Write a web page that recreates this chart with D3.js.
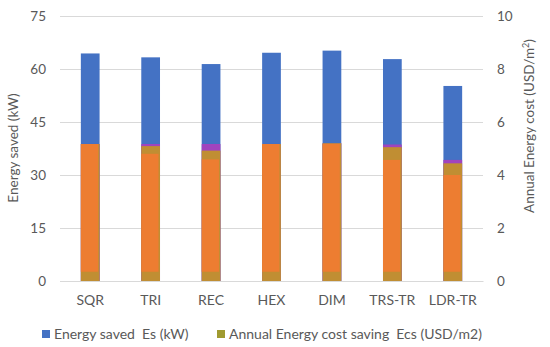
<!DOCTYPE html>
<html><head><meta charset="utf-8">
<script src="https://cdn.jsdelivr.net/npm/d3@7"></script>
<style>body{margin:0;background:#fff}svg{display:block}text{font-family:Lato,"Open Sans",sans-serif;fill:#595959}</style>
</head><body><svg id="c" width="550" height="347"></svg>
<script>
const categories = ["SQR","TRI","REC","HEX","DIM","TRS-TR","LDR-TR"];
const energySaved = [64.4, 63.3, 61.4, 64.6, 65.2, 62.8, 55.2];
const costUpper = [5.17, 5.17, 5.17, 5.17, 5.2, 5.15, 4.57];
const costSaving = [5.17, 5.09, 4.92, 5.17, 5.2, 5.05, 4.44];
const costInnerTop = [5.17, 4.8, 4.59, 5.17, 5.17, 4.57, 4.0];
const costInnerBase = 0.35;
const leftTicks = [0, 15, 30, 45, 60, 75];
const rightTicks = [0, 2, 4, 6, 8, 10];

const svg = d3.select("#c");
const x = d3.scaleBand().domain(categories).range([60, 483]).paddingInner(0.69).paddingOuter(0.345);
const yL = d3.scaleLinear().domain([0, 75]).range([281, 16]);
const yR = d3.scaleLinear().domain([0, 10]).range([281, 16]);

// gridlines
svg.append("g").selectAll("line").data(leftTicks).join("line")
  .attr("x1", 60).attr("x2", 483).attr("y1", d => yL(d) + 0.5).attr("y2", d => yL(d) + 0.5)
  .attr("stroke", "#d9d9d9").attr("stroke-width", 1);

const bw = x.bandwidth();
const g = svg.append("g");
g.selectAll(".es").data(categories).join("rect")
  .attr("x", d => x(d)).attr("width", bw)
  .attr("y", (d, i) => yL(energySaved[i])).attr("height", (d, i) => yL(0) - yL(energySaved[i]))
  .attr("fill", "#4472C4");
g.selectAll(".up").data(categories).join("rect")
  .attr("x", d => x(d)).attr("width", bw)
  .attr("y", (d, i) => yR(costUpper[i])).attr("height", (d, i) => yR(0) - yR(costUpper[i]))
  .attr("fill", "#A044BE");
g.selectAll(".ecs").data(categories).join("rect")
  .attr("x", d => x(d)).attr("width", bw)
  .attr("y", (d, i) => yR(costSaving[i])).attr("height", (d, i) => yR(0) - yR(costSaving[i]))
  .attr("fill", "#C08E33");
g.selectAll(".inner").data(categories).join("rect")
  .attr("x", d => x(d)).attr("width", bw - 1.5)
  .attr("y", (d, i) => yR(costInnerTop[i])).attr("height", (d, i) => yR(costInnerBase) - yR(costInnerTop[i]))
  .attr("fill", "#ED7D31");

// axes
const axL = svg.append("g").attr("transform", "translate(46,0)")
  .call(d3.axisLeft(yL).tickValues(leftTicks).tickSize(0).tickPadding(0));
axL.select(".domain").remove();
axL.selectAll("text").style("font-size", "13.5px").attr("fill", "#595959");

const axR = svg.append("g").attr("transform", "translate(497,0)")
  .call(d3.axisRight(yR).tickValues(rightTicks).tickSize(0).tickPadding(0));
axR.select(".domain").remove();
axR.selectAll("text").style("font-size", "13.5px").attr("fill", "#595959");

const axB = svg.append("g").attr("transform", "translate(0,281)")
  .call(d3.axisBottom(x).tickSize(0).tickPadding(14));
axB.select(".domain").attr("stroke", "#d9d9d9");
axB.selectAll("text").style("font-size", "14px").attr("fill", "#595959");

// axis titles
svg.append("text").attr("transform", "translate(18,148) rotate(-90)").attr("text-anchor", "middle")
  .style("font-size", "13.5px").text("Energy saved (kW)");
const rt = svg.append("text").attr("transform", "translate(534,126) rotate(-90)").attr("text-anchor", "middle")
  .style("font-size", "13.5px");
rt.append("tspan").text("Annual Energy cost (USD/m");
rt.append("tspan").attr("dy", -5).style("font-size", "9px").text("2");
rt.append("tspan").attr("dy", 5).text(")");

// legend
const legend = [{label: "Energy saved  Es (kW)", color: "#4472C4", x: 42}, {label: "Annual Energy cost saving  Ecs (USD/m2)", color: "#A09A30", x: 217}];
const lg = svg.append("g").selectAll("g").data(legend).join("g").attr("transform", d => `translate(${d.x},334)`);
lg.append("rect").attr("x", 0).attr("y", -4).attr("width", 8).attr("height", 8).attr("fill", d => d.color);
lg.append("text").attr("x", 12).attr("y", 0).attr("dy", "0.35em").style("font-size", "14px")
  .style("white-space", "pre").attr("xml:space", "preserve").text(d => d.label);
</script></body></html>
